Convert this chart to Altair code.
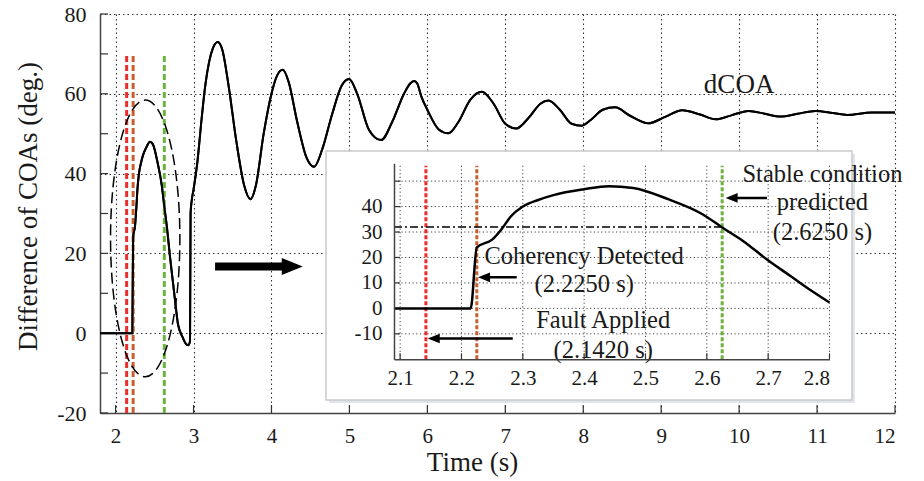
import altair as alt
import pandas as pd

FONT = "Liberation Serif"
TXT = "#1a1a1a"

# ---------------- data ----------------
time_s = [1.8, 2.09, 2.215, 2.225, 2.25, 2.265, 2.28, 2.30, 2.325, 2.35, 2.40, 2.44, 2.48,
          2.537, 2.593, 2.625, 2.659, 2.698, 2.737, 2.77, 2.80, 2.86, 2.90, 2.935, 2.955,
          2.962, 2.975, 3.0, 3.05, 3.10, 3.15, 3.20, 3.25, 3.31, 3.37, 3.45, 3.55, 3.65,
          3.73, 3.80, 3.90, 4.0, 4.07, 4.145, 4.22, 4.33, 4.45, 4.547, 4.65, 4.78, 4.9,
          4.996, 5.1, 5.25, 5.407, 5.55, 5.7, 5.78, 5.83, 5.87, 5.92, 6.0, 6.15, 6.27, 6.4, 6.55,
          6.70, 6.85, 7.0, 7.14, 7.3, 7.45, 7.555, 7.7, 7.85, 7.98, 8.1, 8.25, 8.41, 8.6,
          8.835, 9.05, 9.27, 9.5, 9.70, 9.9, 10.12, 10.33, 10.53, 10.75, 10.98, 11.2,
          11.385, 11.7, 12.0]
dcoa = [0, 0, 0, 24, 27, 31, 36, 40, 42.6, 44.5, 46.8, 48, 47.3,
        42.9, 37, 31.8, 26.5, 19.2, 12.6, 7, 2.3, -1, -2.6, -3, -2,
        30, 33, 36, 43, 53, 62, 68, 71.5, 73, 71, 62, 48, 37,
        33.6, 37, 50, 60, 64.5, 66, 63, 53, 44, 41.7, 46, 55, 62,
        63.7, 60, 51, 48.4, 53, 60, 62.6, 63.2, 62.6, 59.5, 56, 51, 50.1, 53, 58.5,
        60.5, 57.5, 52.5, 51.3, 54, 57.5, 58.3, 56, 52.5, 52, 53.5, 56, 56.6, 54.5,
        52.6, 54.2, 55.9, 54.8, 53.6, 54.6, 55.7, 55, 54.3, 55, 55.7, 55.2,
        54.7, 55.3, 55.3]

event_times = [2.142, 2.225, 2.625]
event_colors = ["#ee2b2b", "#c95f2c", "#6cb33e"]

main_x_ticks = [2, 3, 4, 5, 6, 7, 8, 9, 10, 11, 12]
main_y_ticks = [-20, -10, 0, 10, 20, 30, 40, 50, 60, 70, 80]
inset_x_ticks = [2.1, 2.2, 2.3, 2.4, 2.5, 2.6, 2.7, 2.8]
inset_y_grid = [-10, 0, 10, 20, 30, 40, 50]
inset_y_labels = [-10, 0, 10, 20, 30, 40]
stable_level = 32

ann_text = ["Coherency Detected", "(2.2250 s)", "Fault Applied", "(2.1420 s)",
            "Stable condition", "predicted", "(2.6250 s)"]
ann_t = [2.40, 2.40, 2.431, 2.431, 2.7885, 2.7885, 2.7885]
ann_v = [17.4, 6.6, -7.8, -19.5, 49.6, 38.7, 27.0]

arrow_tail = [2.290, 2.2836, 2.698]
arrow_tip = [2.227, 2.145, 2.6307]
arrow_v = [12.2, -11.8, 43.4]

ellipse_center = (2.38, 23.75)
big_arrow_center = (3.839, 16.7)
label_pos = (10.0, 60.1)

# ---------------- layout ----------------
W, H = 795, 399
main_df = pd.DataFrame({"t": time_s, "v": dcoa})
inset_df = main_df[(main_df.t >= 2.09) & (main_df.t <= 2.8)]

xm = alt.Scale(domain=[1.8, 12], nice=False, zero=False)
ym = alt.Scale(domain=[-20, 80], nice=False, zero=False)
GRID = dict(grid=True, gridDash=[1.5, 3], gridColor="#333", gridWidth=1.1)
ax_xm = alt.Axis(values=main_x_ticks, ticks=False, domainColor="#444", domainWidth=1.5,
                 labelFont=FONT, labelFontSize=21, labelColor=TXT, labelPadding=12,
                 labelExpr="'' + datum.value", title="Time (s)", titleFont=FONT,
                 titleFontSize=27, titleFontWeight="normal", titleColor=TXT,
                 titleX=372, titleY=57, titleBaseline="alphabetic", titleAlign="center",
                 **GRID)
ax_ym = alt.Axis(values=main_y_ticks, ticks=False, domainColor="#444", domainWidth=1.5,
                 labelFont=FONT, labelFontSize=22, labelColor=TXT, labelPadding=14,
                 labelExpr="datum.value % 20 === 0 ? '' + datum.value : ''",
                 title="Difference of COAs (deg.)", titleFont=FONT, titleFontSize=27,
                 titleFontWeight="normal", titleColor=TXT, titleX=-72, titleY=192,
                 titleAngle=-90, titleBaseline="middle", titleAlign="center", **GRID)


def XM(f="t"):
    return alt.X(f, type="quantitative", scale=xm, axis=ax_xm)


def YM(f="v"):
    return alt.Y(f, type="quantitative", scale=ym, axis=ax_ym)


curve = alt.Chart(main_df).mark_line(color="black", strokeWidth=2, interpolate="monotone").encode(
    x=XM(), y=YM())

ticks_y = alt.Chart(pd.DataFrame({"v": main_y_ticks})).mark_rule(color="#333", strokeWidth=1.2).encode(
    y=YM(), x=alt.value(0), x2=alt.value(8))
ticks_x = alt.Chart(pd.DataFrame({"t": main_x_ticks})).mark_rule(color="#333", strokeWidth=1.2).encode(
    x=XM(), y=alt.value(H), y2=alt.value(H - 8))

main_layers = [curve, ticks_y, ticks_x]
for et, ec in zip(event_times, event_colors):
    main_layers.append(
        alt.Chart(pd.DataFrame({"t": [et]})).mark_rule(color=ec, strokeWidth=3, strokeDash=[6, 3]).encode(
            x=XM(), y=alt.datum(-20), y2=alt.datum(70)))

k = 0.5523
rx = 0.2505
ELL = (f"M 0 -1 C {rx*k:.4f} -1 {rx} -{k} {rx} 0 C {rx} {k} {rx*k:.4f} 1 0 1 "
       f"C -{rx*k:.4f} 1 -{rx} {k} -{rx} 0 C -{rx} -{k} -{rx*k:.4f} -1 0 -1 Z")
ellipse = alt.Chart(pd.DataFrame({"t": [ellipse_center[0]], "v": [ellipse_center[1]]})).mark_point(
    shape=ELL, size=76563, filled=False, stroke="black", strokeWidth=1.5, strokeDash=[11, 5], opacity=1
).encode(x=XM(), y=YM())

ARROW = "M -1 -0.091 L 0.521 -0.091 L 0.521 -0.194 L 1 0 L 0.521 0.194 L 0.521 0.091 L -1 0.091 Z"
big_arrow = alt.Chart(pd.DataFrame({"t": [big_arrow_center[0]], "v": [big_arrow_center[1]]})).mark_point(
    shape=ARROW, size=7691, filled=True, color="black", opacity=1, strokeWidth=0
).encode(x=XM(), y=YM())

dcoa_label = alt.Chart(pd.DataFrame({"t": [label_pos[0]], "v": [label_pos[1]]})).mark_text(
    text="dCOA", font=FONT, fontSize=27, align="center", baseline="alphabetic", color=TXT
).encode(x=XM(), y=YM())

main_layers += [ellipse, curve, big_arrow, dcoa_label]
main = alt.layer(*main_layers)

# ---------------- inset ----------------
IX0, IX1 = 294, 729.5
IY0, IY1 = 345.3, 149.3
xi = alt.Scale(domain=[2.09, 2.8], range=[IX0, IX1], nice=False, zero=False)
yi = alt.Scale(domain=[-20, 57], range=[IY0, IY1], nice=False, zero=False)
ax_xi = alt.Axis(orient="bottom", offset=IY0 - H, values=inset_x_ticks, grid=False, ticks=False,
                 domainColor="#444", domainWidth=1.5, labelFont=FONT, labelFontSize=21,
                 labelColor=TXT, labelPadding=8, format=".1f", title=None, zindex=1)
ax_yi = alt.Axis(orient="left", offset=-IX0, values=inset_y_labels, grid=False, ticks=False,
                 domainColor="#444", domainWidth=1.5, labelFont=FONT, labelFontSize=21,
                 labelColor=TXT, labelPadding=12, labelExpr="'' + datum.value", title=None, zindex=1)


def XI(f="t"):
    return alt.X(f, type="quantitative", scale=xi, axis=ax_xi)


def YI(f="v"):
    return alt.Y(f, type="quantitative", scale=yi, axis=ax_yi)


shadow = alt.Chart(pd.DataFrame({"a": [0]})).mark_rect(fill="#dfe3ea", opacity=0.9).encode(
    x=alt.value(229), x2=alt.value(755), y=alt.value(140), y2=alt.value(389))
box = alt.Chart(pd.DataFrame({"a": [0]})).mark_rect(fill="white", stroke="#c9c9c9", strokeWidth=1.5).encode(
    x=alt.value(226), x2=alt.value(752), y=alt.value(137), y2=alt.value(386))

igrid_v = alt.Chart(pd.DataFrame({"t": inset_x_ticks})).mark_rule(
    color="#444", strokeWidth=1, strokeDash=[1.2, 2.5]).encode(x=XI(), y=alt.datum(-20), y2=alt.datum(57))
igrid_h = alt.Chart(pd.DataFrame({"v": inset_y_grid})).mark_rule(
    color="#444", strokeWidth=1, strokeDash=[1.2, 2.5]).encode(y=YI(), x=alt.datum(2.09), x2=alt.datum(2.8))
iticks_y = alt.Chart(pd.DataFrame({"v": inset_y_grid})).mark_rule(color="#333", strokeWidth=1.2).encode(
    y=YI(), x=alt.value(IX0), x2=alt.value(IX0 + 6))
iticks_x = alt.Chart(pd.DataFrame({"t": inset_x_ticks})).mark_rule(color="#333", strokeWidth=1.2).encode(
    x=XI(), y=alt.value(IY0), y2=alt.value(IY0 - 6))

inset_layers = [shadow, box, igrid_v, igrid_h, iticks_y, iticks_x]
for et, ec in zip(event_times, event_colors):
    inset_layers.append(
        alt.Chart(pd.DataFrame({"t": [et]})).mark_rule(color=ec, strokeWidth=3, strokeDash=[4, 2]).encode(
            x=XI(), y=alt.datum(-20), y2=alt.datum(56)))

dashdot = alt.Chart(pd.DataFrame({"t": [2.09, event_times[2]], "v": [stable_level, stable_level]})).mark_line(
    color="black", strokeWidth=1.5, strokeDash=[8, 3, 2, 3]).encode(x=XI(), y=YI())
icurve = alt.Chart(inset_df).mark_line(color="black", strokeWidth=2.5, interpolate="monotone").encode(
    x=XI(), y=YI())

arr_df = pd.DataFrame({"tail": arrow_tail, "tip": arrow_tip, "v": arrow_v})
arr_lines = alt.Chart(arr_df).mark_rule(color="black", strokeWidth=2.5, x2Offset=6).encode(
    x=XI("tail"), x2=alt.X2("tip"), y=YI())
arr_heads = alt.Chart(arr_df).mark_point(
    shape="M 0 0 L 2 -0.8 L 2 0.8 Z", size=144, filled=True, color="black", opacity=1, strokeWidth=0
).encode(x=XI("tip"), y=YI())

ann = alt.Chart(pd.DataFrame({"t": ann_t, "v": ann_v, "txt": ann_text})).mark_text(
    font=FONT, fontSize=24.5, align="center", baseline="alphabetic", color=TXT
).encode(x=XI(), y=YI(), text="txt:N")

inset_layers += [dashdot, icurve, arr_lines, arr_heads, ann]
inset = alt.layer(*inset_layers)

chart = alt.layer(main, inset).resolve_scale(x="independent", y="independent").resolve_axis(
    x="independent", y="independent"
).properties(
    width=W, height=H,
    autosize=alt.AutoSizeParams(type="none"),
    padding={"left": 100, "top": 14, "right": 29, "bottom": 68},
).configure_view(stroke=None)

chart.save("out.html", embed_options={"renderer": "svg", "actions": False})
